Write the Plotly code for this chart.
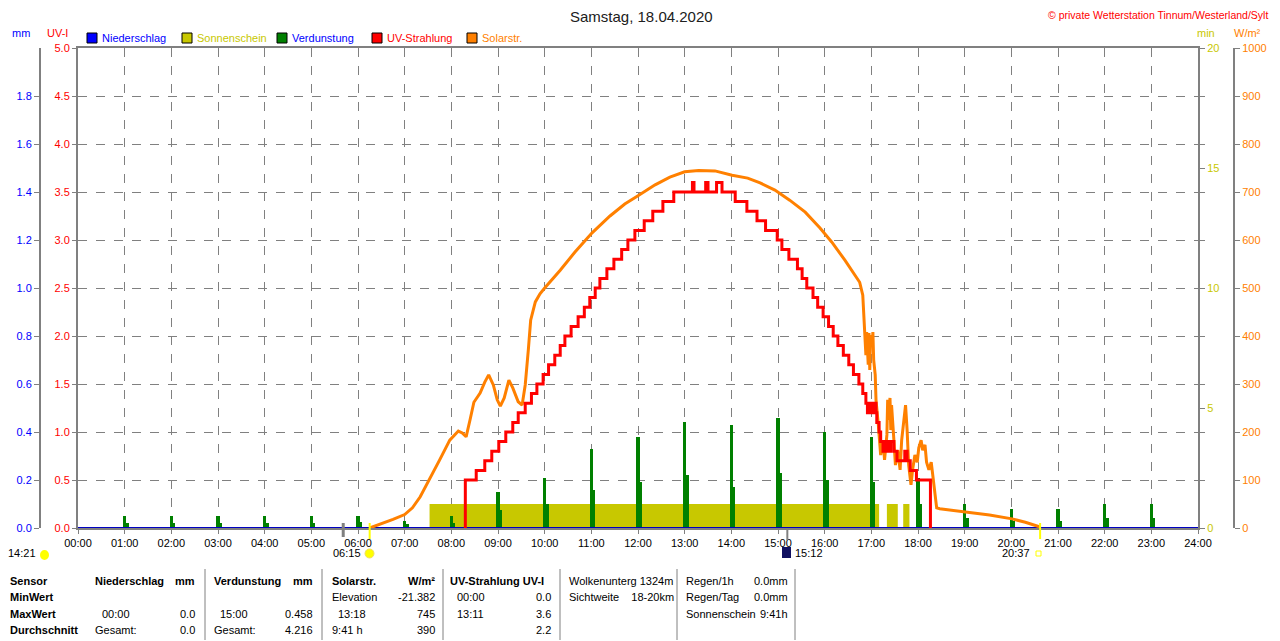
import plotly.graph_objects as go

# Wetterstation Tinnum - Tagesgrafik Samstag 18.04.2020
W, H = 1280, 641
OFF = 8                              # Seitenrand der HTML-Seite
PL, PR, PT, PB = 78, 1198, 48, 528   # Plotflaeche in Bildpixeln
FONT = "Liberation Sans, Arial, sans-serif"


def t(s):
    # "HH:MM" -> Stunden
    h, m = s.split(":")
    return int(h) + int(m) / 60


def px(x):
    return (x - OFF) / W


def py(y):
    return (PB - y) / (PB - PT)


# --- Daten ---
stunden = list(range(25))
stunden_text = [f"{h:02d}:00" for h in stunden]

# Niederschlag (mm)
regen_zeit = ["00:00", "24:00"]
regen_mm = [0.0, 0.0]

# Sonnenschein (min), Intervalle mit Sonne
sonne_von = ["07:32", "17:20", "17:41"]
sonne_bis = ["17:10", "17:34", "17:49"]
sonne_min = [1.0, 1.0, 1.0]

# Verdunstung (mm), stuendliche Werte
verd_stunde = list(range(1, 24))
verd_mm = [0.05, 0.05, 0.05, 0.05, 0.05, 0.05, 0.03, 0.05, 0.15, 0.21, 0.33, 0.38,
           0.44, 0.43, 0.458, 0.40, 0.38, 0.21, 0.10, 0.08, 0.08, 0.10, 0.10]
verd_teil = [0.02, 0.02, 0.02, 0.02, 0.02, 0.025, 0.015, 0.02, 0.075, 0.10, 0.16, 0.19,
             0.22, 0.17, 0.23, 0.20, 0.19, 0.10, 0.04, 0.03, 0.03, 0.04, 0.04]

# Solarstrahlung (W/m2)
solar_zeit = ["06:15", "06:22", "06:32", "06:45", "07:00", "07:10", "07:20", "07:33", "07:45",
              "07:58", "08:09", "08:14", "08:19", "08:24", "08:29", "08:37", "08:43", "08:48",
              "08:54", "08:59", "09:03", "09:08", "09:14", "09:19", "09:26", "09:31", "09:35",
              "09:39", "09:42", "09:48", "09:54", "10:00", "10:20", "10:39", "11:01", "11:24",
              "11:43", "12:00", "12:22", "12:41", "13:00", "13:18", "13:39", "14:01", "14:21",
              "14:37", "14:56", "15:15", "15:35", "15:54", "16:09", "16:26", "16:39", "16:45",
              "16:49", "16:50", "16:52", "16:53", "16:54", "16:56", "16:57", "16:58", "16:59",
              "17:01", "17:02", "17:03", "17:05", "17:06", "17:09", "17:11", "17:12", "17:15",
              "17:17", "17:20", "17:21", "17:22", "17:24", "17:25", "17:26", "17:29", "17:31",
              "17:34", "17:37", "17:39", "17:42", "17:44", "17:46", "17:48", "17:51", "17:53",
              "17:56", "17:59", "18:01", "18:04", "18:06", "18:09", "18:11", "18:14", "18:17",
              "18:21", "18:24", "18:28", "19:00", "19:32", "20:01", "20:18", "20:37"]
solar_w = [0, 4, 10, 18, 28, 42, 65, 104, 142,
           183, 202, 198, 190, 225, 262, 281, 304, 319,
           298, 267, 254, 271, 308, 292, 263, 256, 298,
           371, 433, 471, 488, 500, 537, 575, 615, 650,
           675, 692, 715, 731, 742, 745, 744, 735, 729,
           719, 704, 683, 658, 625, 596, 558, 527, 512,
           485, 444, 385, 360, 408, 340, 406, 329, 402,
           381, 408, 350, 319, 267, 215, 173, 152, 183,
           142, 194, 267, 225, 271, 204, 256, 183, 131,
           162, 121, 183, 225, 256, 204, 131, 90, 121,
           152, 137, 167, 183, 162, 173, 137, 121, 137,
           79, 42, 40, 33, 27, 19, 12, 2]

# UV-Strahlung (UV-I), Stufenwerte
uv_zeit = ["08:17", "08:18", "08:32", "08:43", "08:52", "09:01", "09:10", "09:19", "09:26",
           "09:35", "09:43", "09:50", "09:58", "10:05", "10:13", "10:20", "10:26", "10:34",
           "10:43", "10:51", "10:58", "11:05", "11:11", "11:20", "11:29", "11:39", "11:47",
           "11:56", "12:08", "12:19", "12:32", "12:46", "13:10", "13:12", "13:27", "13:30",
           "13:41", "13:48", "14:05", "14:20", "14:33", "14:44", "14:59", "15:05", "15:14",
           "15:25", "15:31", "15:37", "15:45", "15:51", "15:58", "16:05", "16:11", "16:17",
           "16:24", "16:31", "16:37", "16:44", "16:49", "16:53", "16:55", "16:57", "16:58",
           "17:01", "17:03", "17:04", "17:06", "17:07", "17:10", "17:12", "17:15", "17:16",
           "17:19", "17:20", "17:23", "17:25", "17:29", "17:33", "17:43", "17:46", "17:50",
           "17:58", "18:16"]
uv_wert = [0.0, 0.5, 0.6, 0.7, 0.8, 0.9, 1.0, 1.1, 1.2,
           1.3, 1.4, 1.5, 1.6, 1.7, 1.8, 1.9, 2.0, 2.1,
           2.2, 2.3, 2.4, 2.5, 2.6, 2.7, 2.8, 2.9, 3.0,
           3.1, 3.2, 3.3, 3.4, 3.5, 3.6, 3.5, 3.6, 3.5,
           3.6, 3.5, 3.4, 3.3, 3.2, 3.1, 3.0, 2.9, 2.8,
           2.7, 2.6, 2.5, 2.4, 2.3, 2.2, 2.1, 2.0, 1.9,
           1.8, 1.7, 1.6, 1.5, 1.4, 1.3, 1.2, 1.3, 1.2,
           1.3, 1.2, 1.3, 1.2, 1.1, 1.0, 0.9, 0.8, 0.9,
           0.8, 0.9, 0.8, 0.9, 0.8, 0.7, 0.8, 0.7, 0.6,
           0.5, 0.0]

# Tabelle unten
tab_kopf = ["Sensor", "Niederschlag", "mm", "Verdunstung", "mm", "Solarstr.", "W/m²",
            "UV-Strahlung UV-I"]
tab_zeilen = ["MinWert", "MaxWert", "Durchschnitt"]
tab_min = ["", "", "", "", "Elevation", "-21.382", "00:00", "0.0"]
tab_max = ["00:00", "0.0", "15:00", "0.458", "13:18", "745", "13:11", "3.6"]
tab_mittel = ["Gesamt:", "0.0", "Gesamt:", "4.216", "9:41 h", "390", "", "2.2"]
info_links = ["Wolkenunterg 1324m", "Sichtweite    18-20km"]
info_rechts = ["Regen/1h", "Regen/Tag", "Sonnenschein"]
info_rechts_wert = ["0.0mm", "0.0mm", "9:41h"]

# --- Farben ---
BLAU = "#0000FF"
GELB = "#C8C800"
GRUEN = "#008000"
ROT = "#FF0000"
ORANGE = "#FF8000"
GRAU = "#808080"

fig = go.Figure()

# Sonnenschein als gefuellte Bloecke
sx, sy = [], []
for a, b, v in zip(sonne_von, sonne_bis, sonne_min):
    sx += [t(a), t(a), t(b), t(b), None]
    sy += [0, v, v, 0, None]
fig.add_trace(go.Scatter(x=sx, y=sy, yaxis="y", fill="toself", fillcolor=GELB,
                         line=dict(width=0), mode="lines", hoverinfo="skip"))

# Verdunstung
fig.add_trace(go.Bar(x=verd_stunde, y=verd_mm, yaxis="y2", width=0.07,
                     marker=dict(color=GRUEN, line=dict(width=0))))
fig.add_trace(go.Bar(x=[h + 0.06 for h in verd_stunde], y=verd_teil, yaxis="y2", width=0.05,
                     marker=dict(color=GRUEN, line=dict(width=0))))

# Niederschlag
fig.add_trace(go.Scatter(x=[t(z) for z in regen_zeit], y=regen_mm, yaxis="y2", mode="lines",
                         line=dict(color="#0000C0", width=2)))

# Solarstrahlung
fig.add_trace(go.Scatter(x=[t(z) for z in solar_zeit], y=solar_w, yaxis="y3", mode="lines",
                         line=dict(color=ORANGE, width=3)))

# UV
fig.add_trace(go.Scatter(x=[t(z) for z in uv_zeit], y=uv_wert, yaxis="y4", mode="lines",
                         line=dict(color=ROT, width=3, shape="hv")))

tick = dict(ticks="outside", ticklen=5, tickcolor=GRAU, tickwidth=1, automargin=False)

fig.update_layout(
    width=W, height=H,
    margin=dict(l=0, r=0, t=PT - OFF, b=H - PB + OFF, autoexpand=False),
    paper_bgcolor="white", plot_bgcolor="white",
    showlegend=False, barmode="overlay", bargap=0,
    font=dict(family=FONT, size=11, color="black"),
    xaxis=dict(domain=[px(PL), px(PR)], range=[0, 24], tickmode="array",
               tickvals=stunden, ticktext=stunden_text, showgrid=True, gridcolor=GRAU,
               griddash="dash", gridwidth=1, showline=True, linecolor=GRAU, linewidth=2,
               mirror=True, zeroline=False, ticks="outside", ticklen=4, tickcolor=GRAU,
               automargin=False, tickfont=dict(size=11, color="black")),
    yaxis=dict(range=[0, 20], side="right", anchor="x", tickmode="array",
               tickvals=[0, 5, 10, 15, 20], tickfont=dict(color=GELB, size=11),
               showline=True, linecolor=GRAU, linewidth=2, mirror=True,
               showgrid=False, zeroline=False, **tick,
               minor=dict(tickmode="array", tickvals=list(range(2, 20, 2)), ticks="outside",
                          ticklen=5, tickcolor=GRAU, showgrid=True, gridcolor=GRAU,
                          griddash="dash", gridwidth=1)),
    yaxis2=dict(range=[0, 2], overlaying="y", anchor="free", position=px(40), side="left",
                tickmode="array", tickvals=[i / 5 for i in range(10)],
                ticktext=[f"{i / 5:.1f}" for i in range(10)], tickfont=dict(color=BLAU, size=11),
                showline=True, linecolor=GRAU, linewidth=2, showgrid=False, zeroline=False,
                **tick),
    yaxis3=dict(range=[0, 1000], overlaying="y", anchor="free", position=px(1234),
                side="right", tickmode="array", tickvals=list(range(0, 1001, 100)),
                tickfont=dict(color=ORANGE, size=11), showline=True, linecolor=GRAU,
                linewidth=2, showgrid=False, zeroline=False, **tick),
    yaxis4=dict(range=[0, 5], overlaying="y", anchor="x", side="left", tickmode="array",
                tickvals=[i / 2 for i in range(11)], ticktext=[f"{i / 2:.1f}" for i in range(11)],
                tickfont=dict(color=ROT, size=11), showline=False, showgrid=False,
                zeroline=False, **tick),
)

ann = []
shapes = []


def text(s, x, y, color="black", anchor="left", size=11):
    ann.append(dict(text=s, x=px(x), y=py(y), xref="paper", yref="paper", showarrow=False,
                    xanchor=anchor, yanchor="middle", font=dict(color=color, size=size)))


# Kopfzeile
text("Samstag, 18.04.2020", 641, 17, "#202020", "center", 15)
text("© private Wetterstation Tinnum/Westerland/Sylt", 1270, 15, ROT, "right", 10.5)
text("mm", 21, 33, BLAU, "center")
text("UV-I", 57, 33, ROT, "center")
text("min", 1206, 33, GELB, "center")
text("W/m²", 1247, 33, ORANGE, "center")

legende = [("Niederschlag", BLAU, BLAU, 87), ("Sonnenschein", GELB, GELB, 182),
           ("Verdunstung", GRUEN, BLAU, 277), ("UV-Strahlung", ROT, ROT, 372),
           ("Solarstr.", ORANGE, ORANGE, 467)]
for name, farbe, tfarbe, x0 in legende:
    shapes.append(dict(type="rect", xref="paper", yref="paper", x0=px(x0), x1=px(x0 + 10),
                       y0=py(43), y1=py(33), fillcolor=farbe, line=dict(color="black", width=1)))
    text(name, x0 + 13, 38, tfarbe)

# Sonnenauf-/untergang, Mond
for z, farbe, y0, y1, w in [("05:41", GRAU, 523, 537, 3), ("06:15", "#FFFF00", 523, 539, 2),
                            ("20:37", "#FFFF00", 523, 539, 2), ("15:12", GRAU, 528, 540, 2)]:
    shapes.append(dict(type="line", xref="x", yref="paper", x0=t(z), x1=t(z),
                       y0=py(y0), y1=py(y1), line=dict(color=farbe, width=w)))
shapes.append(dict(type="circle", xref="paper", yref="paper", x0=px(365), x1=px(374),
                   y0=py(558), y1=py(549), fillcolor="#FFFF00", line=dict(color="#F0E060", width=1)))
shapes.append(dict(type="circle", xref="paper", yref="paper", x0=px(40), x1=px(49),
                   y0=py(560), y1=py(550), fillcolor="#FFFF00", line=dict(width=0)))
shapes.append(dict(type="rect", xref="paper", yref="paper", x0=px(782), x1=px(791),
                   y0=py(558), y1=py(547), fillcolor="#101060", line=dict(width=0)))
shapes.append(dict(type="rect", xref="paper", yref="paper", x0=px(1036), x1=px(1041),
                   y0=py(556), y1=py(551), fillcolor="white", line=dict(color="#FFFF00", width=1)))
text("14:21", 38, 553, "black", "right")
text("06:15", 363, 553, "black", "right")
text("15:12", 793, 553)
text("20:37", 1032, 553, "black", "right")

# Tabelle
zeilen_y = [581, 597, 614, 630]
for x in [205, 322, 443, 560, 677, 795]:
    shapes.append(dict(type="line", xref="paper", yref="paper", x0=px(x), x1=px(x),
                       y0=py(569), y1=py(640), line=dict(color=GRAU, width=1)))
kopf_pos = [(8, "left"), (93, "left"), (197, "right"), (212, "left"), (315, "right"),
            (330, "left"), (437, "right"), (448, "left")]
for s, (x, a) in zip(tab_kopf, kopf_pos):
    text(f"<b>{s}</b>", x, zeilen_y[0], "black", a)
for s, y in zip(tab_zeilen, zeilen_y[1:]):
    text(f"<b>{s}</b>", 8, y)
wert_pos = [(100, "left"), (197, "right"), (218, "left"), (315, "right"),
            (336, "left"), (437, "right"), (455, "left"), (553, "right")]
for reihe, y in zip([tab_min, tab_max, tab_mittel], zeilen_y[1:]):
    for i, (s, (x, a)) in enumerate(zip(reihe, wert_pos)):
        if not s:
            continue
        if s.startswith("Gesamt") or s in ("Elevation", "9:41 h"):
            x = {0: 93, 2: 212, 4: 330}[i]
        text(s, x, y, "black", a)
for s, y in zip(info_links, zeilen_y):
    text(s.replace("    ", "&nbsp;&nbsp;&nbsp;&nbsp;"), 567, y)
for s, v, y in zip(info_rechts, info_rechts_wert, zeilen_y):
    text(s, 684, y)
    text(v, 790, y, "black", "right")

fig.update_layout(annotations=ann, shapes=shapes)
fig.write_html("out.html")
